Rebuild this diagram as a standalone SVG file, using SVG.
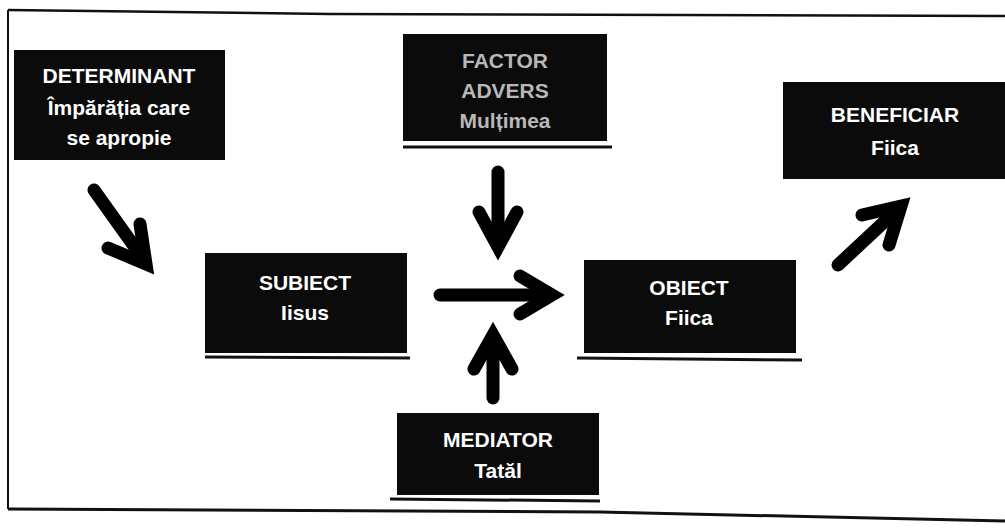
<svg xmlns="http://www.w3.org/2000/svg" width="1005" height="530" viewBox="0 0 1005 530">
<style>
.box{fill:#0b0b0b;}
.lbl{font-family:"Liberation Sans",Arial,sans-serif;font-weight:bold;font-size:21px;fill:#ffffff;text-anchor:middle;}
.dim{fill:#b8b8b8;}
.frame{stroke:#111;fill:none;}
.shadow{stroke:#111;stroke-width:3;fill:none;}
.arr{stroke:#000;stroke-width:13;fill:none;stroke-linecap:round;stroke-linejoin:miter;stroke-miterlimit:10;}
</style>
<rect width="1005" height="530" fill="#ffffff"/>
<g id="frame">
<path class="frame" stroke-width="2.5" d="M8,10 L330,14 L1005,16"/>
<path class="frame" stroke-width="2" d="M8,10 L8,509"/>
<path class="frame" stroke-width="3" d="M8,509 L600,512 L1005,521"/>
</g>
<g id="determinant">
<rect class="box" x="14" y="50" width="211" height="110"/>
<text class="lbl" x="119" y="83">DETERMINANT</text>
<text class="lbl" x="119" y="115">Împărăția care</text>
<text class="lbl" x="119" y="145">se apropie</text>
</g>
<g id="factor-advers">
<rect class="box" x="403" y="34" width="204" height="107"/>
<line class="shadow" x1="403" y1="147" x2="612" y2="147"/>
<text class="lbl dim" x="505" y="68">FACTOR</text>
<text class="lbl dim" x="505" y="98">ADVERS</text>
<text class="lbl dim" x="505" y="128">Mulțimea</text>
</g>
<g id="beneficiar">
<rect class="box" x="783" y="82" width="222" height="97"/>
<text class="lbl" x="895" y="122">BENEFICIAR</text>
<text class="lbl" x="895" y="155">Fiica</text>
</g>
<g id="subiect">
<rect class="box" x="205" y="253" width="202" height="100"/>
<line class="shadow" x1="205" y1="357" x2="410" y2="358"/>
<text class="lbl" x="305" y="290">SUBIECT</text>
<text class="lbl" x="305" y="320">Iisus</text>
</g>
<g id="obiect">
<rect class="box" x="584" y="260" width="212" height="93"/>
<line class="shadow" x1="577" y1="358" x2="802" y2="360"/>
<text class="lbl" x="689" y="295">OBIECT</text>
<text class="lbl" x="689" y="325">Fiica</text>
</g>
<g id="mediator">
<rect class="box" x="397" y="413" width="202" height="82"/>
<line class="shadow" x1="390" y1="499" x2="600" y2="501"/>
<text class="lbl" x="498" y="447">MEDIATOR</text>
<text class="lbl" x="498" y="478">Tatăl</text>
</g>
<g id="connectors">
<path class="arr" d="M94,190 L144,260"/>
<path class="arr" d="M140,224 L146,264 L108,248"/>
<path class="arr" d="M498,172 L498,246"/>
<path class="arr" d="M479,212 L498,247 L517,212"/>
<path class="arr" d="M440,295 L548,295"/>
<path class="arr" d="M520,276 L552,295 L520,314"/>
<path class="arr" d="M493,398 L493,338"/>
<path class="arr" d="M474,369 L493,335 L512,369"/>
<path class="arr" d="M838,265 L898,209"/>
<path class="arr" d="M862,215 L901,206 L889,245"/>
</g>
</svg>
